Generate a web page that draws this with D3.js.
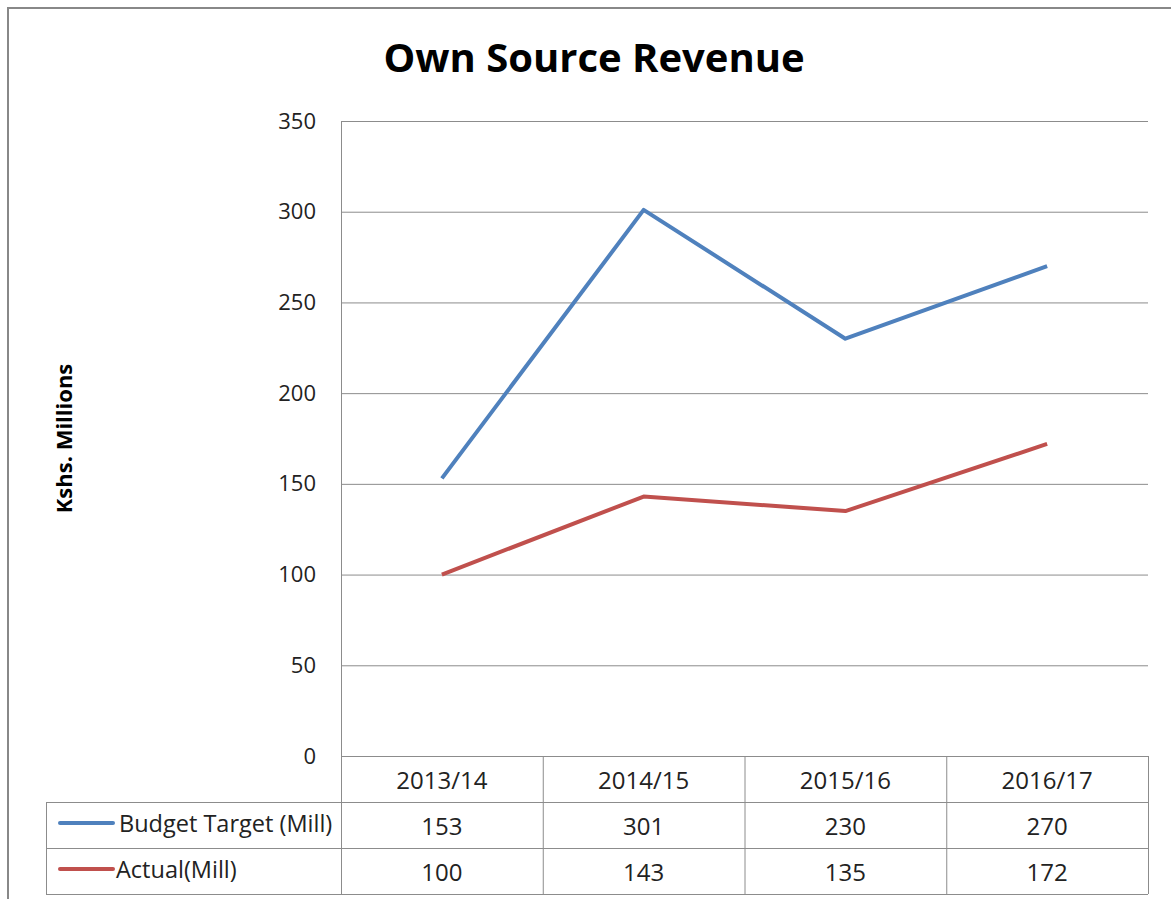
<!DOCTYPE html>
<html>
<head>
<meta charset="utf-8">
<script src="https://cdn.jsdelivr.net/npm/d3@7"></script>
<style>
  body { margin: 0; background: #fff; }
  svg text { font-family: "Open Sans", "Noto Sans", sans-serif; fill: #222; }
</style>
</head>
<body>
<svg id="chart" width="1171" height="899"></svg>
<script>
const years = ['2013/14', '2014/15', '2015/16', '2016/17']
const budget = [153, 301, 230, 270]
const actual = [100, 143, 135, 172]
const seriesNames = ['Budget Target (Mill)', 'Actual(Mill)']
const yTicks = [0, 50, 100, 150, 200, 250, 300, 350]

const series = [
  { name: seriesNames[0], values: budget, color: '#4f81bd' },
  { name: seriesNames[1], values: actual, color: '#c0504d' }
]

const svg = d3.select('#chart')
const plotLeft = 341, plotRight = 1148, plotTop = 121, plotBottom = 756
const rowH = 46
const labelLeft = 46

// outer frame
svg.append('rect')
  .attr('x', 8).attr('y', 8).attr('width', 1180).attr('height', 920)
  .attr('fill', 'none').attr('stroke', '#888').attr('stroke-width', 2)

svg.append('text')
  .attr('x', 594).attr('y', 72)
  .attr('text-anchor', 'middle')
  .style('font-size', '40px').style('font-weight', 'bold')
  .style('fill', '#000')
  .text('Own Source Revenue')

const x = d3.scaleBand().domain(years).range([plotLeft, plotRight])
const y = d3.scaleLinear().domain([0, 350]).range([plotBottom, plotTop])

// gridlines
svg.append('g').selectAll('line').data(yTicks).enter().append('line')
  .attr('x1', plotLeft).attr('x2', plotRight)
  .attr('y1', d => y(d) + 0.5).attr('y2', d => y(d) + 0.5)
  .attr('stroke', '#8c8c8c').attr('stroke-width', 1)

// y axis
const yAxis = svg.append('g')
  .attr('transform', `translate(${plotLeft},0)`)
  .call(d3.axisLeft(y).tickValues(yTicks).tickSize(0).tickPadding(25))
yAxis.select('.domain').attr('stroke', '#8c8c8c')
yAxis.selectAll('text').style('font-size', '22px').style('fill', '#222')

svg.append('text')
  .attr('transform', `translate(72,${(plotTop + plotBottom) / 2}) rotate(-90)`)
  .attr('text-anchor', 'middle')
  .style('font-size', '22px').style('font-weight', 'bold')
  .style('fill', '#000')
  .text('Kshs. Millions')

// lines
const line = d3.line()
  .x((d, i) => x(years[i]) + x.bandwidth() / 2)
  .y(d => y(d))

svg.append('g').selectAll('path').data(series).enter().append('path')
  .attr('d', d => line(d.values))
  .attr('fill', 'none')
  .attr('stroke', d => d.color)
  .attr('stroke-width', 4)
  .attr('stroke-linejoin', 'round')

// data table
const table = svg.append('g')
const gridStroke = '#8c8c8c'
table.append('line').attr('x1', plotLeft + 0.5).attr('x2', plotLeft + 0.5)
  .attr('y1', plotBottom).attr('y2', plotBottom + rowH * 3).attr('stroke', gridStroke)
table.selectAll('.vcol').data(years).enter().append('line')
  .attr('x1', d => x(d) + x.bandwidth() + 0.5).attr('x2', d => x(d) + x.bandwidth() + 0.5)
  .attr('y1', plotBottom).attr('y2', plotBottom + rowH * 3).attr('stroke', gridStroke)
table.append('line').attr('x1', labelLeft + 0.5).attr('x2', labelLeft + 0.5)
  .attr('y1', plotBottom + rowH).attr('y2', plotBottom + rowH * 3).attr('stroke', gridStroke)
;[1, 2, 3].forEach(r => {
  table.append('line').attr('x1', labelLeft).attr('x2', plotRight)
    .attr('y1', plotBottom + rowH * r + 0.5).attr('y2', plotBottom + rowH * r + 0.5)
    .attr('stroke', gridStroke)
})

table.selectAll('.yr').data(years).enter().append('text')
  .attr('x', d => x(d) + x.bandwidth() / 2)
  .attr('y', plotBottom + rowH / 2 + 10)
  .attr('text-anchor', 'middle')
  .style('font-size', '24px')
  .text(d => d)

series.forEach((s, r) => {
  const cy = plotBottom + rowH * (r + 1) + rowH / 2
  table.append('line')
    .attr('x1', 60).attr('x2', 113)
    .attr('y1', cy - 2).attr('y2', cy - 2)
    .attr('stroke', s.color).attr('stroke-width', 4).attr('stroke-linecap', 'round')
  table.append('text')
    .attr('x', r === 0 ? 119 : 116).attr('y', cy + 7)
    .style('font-size', '23.5px')
    .attr('textLength', null)
    .text(s.name)
  table.selectAll('.v' + r).data(s.values).enter().append('text')
    .attr('x', (d, i) => x(years[i]) + x.bandwidth() / 2)
    .attr('y', cy + 10)
    .attr('text-anchor', 'middle')
    .style('font-size', '24px')
    .text(d => d)
})
</script>
</body>
</html>
